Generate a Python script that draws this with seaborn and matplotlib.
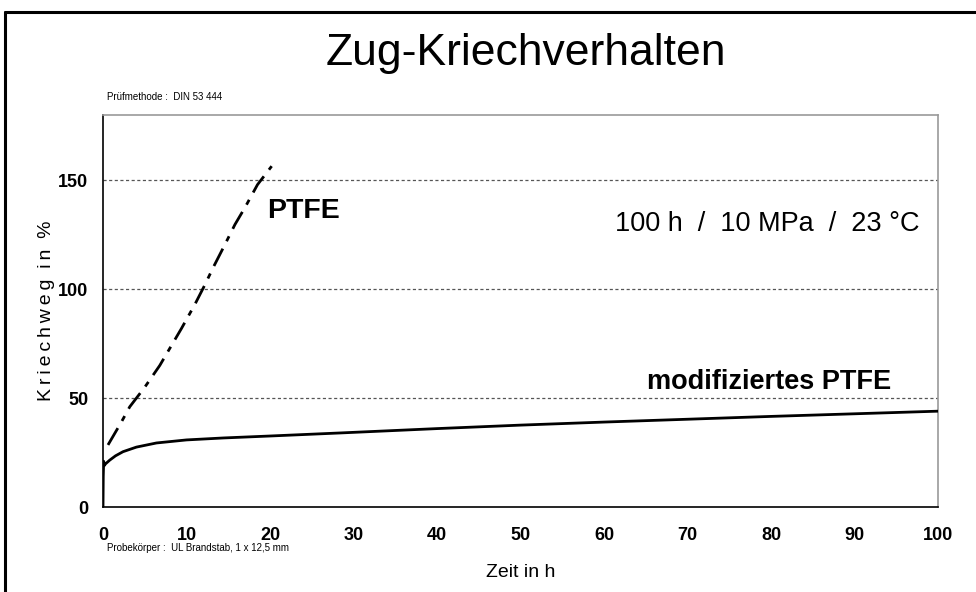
import matplotlib
matplotlib.use("Agg")
import matplotlib.pyplot as plt
import seaborn as sns
from matplotlib.lines import Line2D

# data
ptfe_t = [0.6, 2.2, 3.2, 5.0, 6.8, 9.4, 11.0, 12.2, 13.2, 14.6, 15.8, 17.0, 18.5, 20.2]
ptfe_y = [28.5, 39, 46, 55, 65, 82, 93, 102, 110, 120.5, 129.7, 137.5, 148, 156.5]

mod_t = [0, 0.03, 0.08, 0.15, 0.3, 0.8, 1.5, 2.4, 4, 6.4, 10, 14.4, 20, 28.4,
         40, 50, 60, 70, 80, 90, 100]
mod_y = [0, 14, 21, 19, 19.8, 21.5, 23.5, 25.4, 27.5, 29.4, 30.8, 31.7, 32.6, 34,
         36, 37.6, 39, 40.3, 41.6, 42.8, 44]

x_ticks = [0, 10, 20, 30, 40, 50, 60, 70, 80, 90, 100]
y_ticks = [0, 50, 100, 150]

sns.set_style("white")
plt.rcParams['font.family'] = ['Liberation Sans', 'DejaVu Sans']
plt.rcParams['text.color'] = 'black'
plt.rcParams['axes.labelcolor'] = 'black'
plt.rcParams['xtick.color'] = 'black'
plt.rcParams['ytick.color'] = 'black'

fig = plt.figure(figsize=(9.76, 5.92), dpi=100)
ax = fig.add_axes([103 / 976, 1 - 507 / 592, (938 - 103) / 976, (507 - 115) / 592])

# grid lines
for v in y_ticks[1:]:
    ax.axhline(v, color='#555555', lw=0.9, dashes=(2.5, 2), zorder=1)

sns.lineplot(x=ptfe_t, y=ptfe_y, ax=ax, color='black', lw=2.0,
             linestyle=(0, (7, 3, 2, 3)), zorder=3)
sns.lineplot(x=mod_t, y=mod_y, ax=ax, color='black', lw=2.0, zorder=3)

ax.set_xlim(0, 100)
ax.set_ylim(0, 180)
ax.set_xticks(x_ticks)
ax.set_yticks(y_ticks)
ax.tick_params(direction='inout', length=9, width=1, color='black',
               labelsize=13)
ax.tick_params(axis='x', pad=10)
ax.tick_params(axis='y', pad=6)
for lab in ax.get_xticklabels() + ax.get_yticklabels():
    lab.set_fontweight('bold')

for side in ['left', 'bottom']:
    ax.spines[side].set_color('black')
    ax.spines[side].set_linewidth(1.2)
for side in ['top', 'right']:
    ax.spines[side].set_visible(True)
    ax.spines[side].set_color('#999999')
    ax.spines[side].set_linewidth(1.2)

ts = '\u2009'
ax.set_xlabel('Zeit in h', fontsize=14, labelpad=14)
ax.set_ylabel(ts.join('Kriechweg') + '  ' + ts.join('in') + '  %',
              fontsize=14, labelpad=2)

# annotations
ax.text(19.6, 136, 'PTFE', fontsize=20.5, fontweight='bold',
        va='center', ha='left')
ax.text(97.8, 130, '100 h  /  10 MPa  /  23 °C', fontsize=19.5,
        va='center', ha='right')
ax.text(94.4, 57.5, 'modifiziertes PTFE', fontsize=19.5, fontweight='bold',
        va='center', ha='right')

fig.text(526 / 976, 1 - 65 / 592, 'Zug-Kriechverhalten', fontsize=32,
         ha='center', va='baseline')
fig.text(107 / 976, 1 - 97 / 592, 'Prüfmethode :  DIN 53 444', fontsize=7,
         ha='left', va='center')
fig.text(107 / 976, 1 - 548 / 592, 'Probekörper :  UL Brandstab, 1 x 12,5 mm',
         fontsize=7, ha='left', va='center')

# frame around the chart (top and left edges visible)
fig.add_artist(Line2D([5 / 976, 1], [1 - 11.5 / 592, 1 - 11.5 / 592],
                      color='black', lw=2.2, transform=fig.transFigure))
fig.add_artist(Line2D([5 / 976, 5 / 976], [0, 1 - 11.5 / 592],
                      color='black', lw=2.2, transform=fig.transFigure))

fig.savefig('out.png', dpi=100)
